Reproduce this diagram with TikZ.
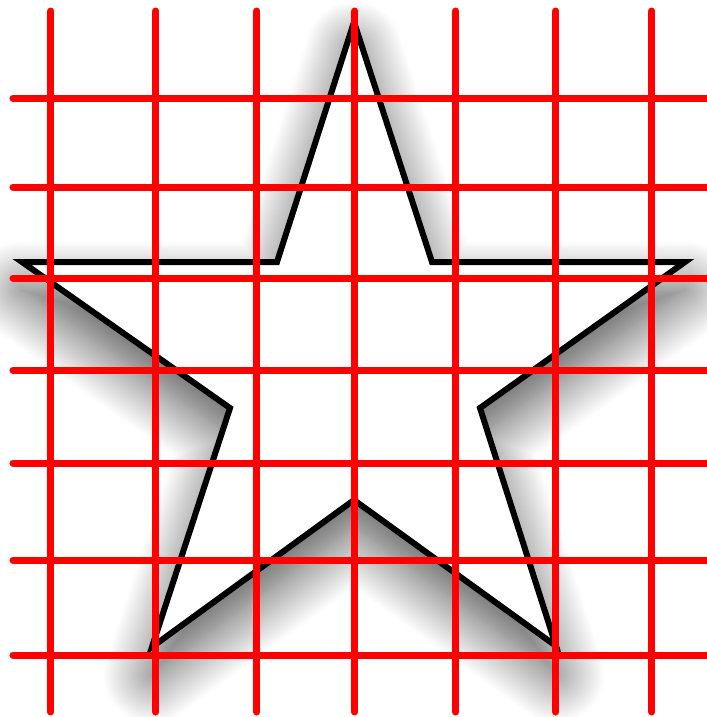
\documentclass[tikz,border=0pt]{standalone}
\usetikzlibrary{shadows.blur}
\begin{document}
\begin{tikzpicture}[x=0.1mm, y=-0.1mm,
    starline/.style={draw=black, line width=0.06cm, line join=miter, fill=white,
      blur shadow={shadow xshift=0pt, shadow yshift=-8pt, shadow blur radius=14pt,
        shadow blur steps=30, shadow opacity=70}},
    gridline/.style={draw=red, line width=0.07cm, line cap=round}
  ]
  \useasboundingbox (0,0) rectangle (707,717);
  \draw[starline] (354,22) -- (432,262) -- (685,262) -- (480,408) -- (556,646) -- (354,500)
    -- (152,647) -- (230,408) -- (22,262) -- (277,262) -- cycle;
  \foreach \gx in {51,156,257,355,456,556,652}
    \draw[gridline] (\gx,11) -- (\gx,712);
  \foreach \gy in {98,187,278,370,463,560,655}
    \draw[gridline] (13,\gy) -- (715,\gy);
\end{tikzpicture}
\end{document}
